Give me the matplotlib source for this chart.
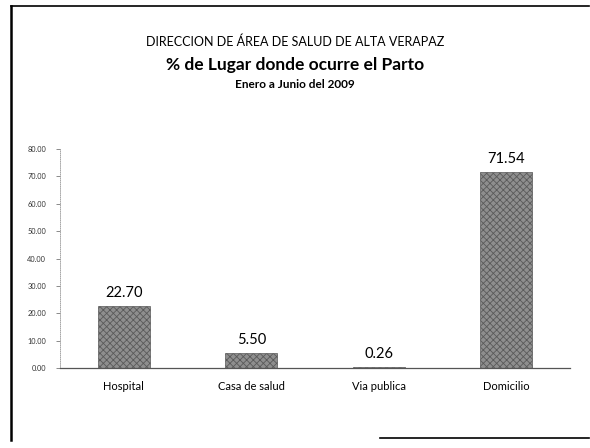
import matplotlib.pyplot as plt
from matplotlib.lines import Line2D

plt.rcParams['font.family'] = ['Lato', 'DejaVu Sans']
plt.rcParams['hatch.color'] = '#4a4a4a'
plt.rcParams['hatch.linewidth'] = 0.6

# Datos
lugares = ['Hospital', 'Casa de salud', 'Via publica', 'Domicilio']
porcentajes = [22.70, 5.50, 0.26, 71.54]
yticks = [0, 10, 20, 30, 40, 50, 60, 70, 80]

fig = plt.figure(figsize=(5.9, 4.48), dpi=100)
ax = fig.add_axes([60 / 590, 1 - 368 / 448, 510 / 590, 219 / 448])

x = range(len(lugares))
ax.bar(x, porcentajes, width=0.41, color='#8e8e8e', edgecolor='#5a5a5a',
       hatch='xxxxx', linewidth=0.5, zorder=2)
for i, v in zip(x, porcentajes):
    ax.text(i, v + 2.2, f'{v:.2f}', ha='center', va='bottom', fontsize=10.5)

ax.set_xlim(-0.5, 3.5)
ax.set_ylim(0, 80)
ax.set_xticks(list(x))
ax.set_xticklabels(lugares, fontsize=8)
ax.set_yticks(yticks)
ax.set_yticklabels([f'{t:.2f}' for t in yticks], fontsize=5.3, color='#333333')
ax.tick_params(axis='x', length=0, pad=9)
ax.tick_params(axis='y', length=3, width=0.6, color='#777777', pad=7)
for s in ['top', 'right']:
    ax.spines[s].set_visible(False)
ax.spines['left'].set_color('#999999')
ax.spines['left'].set_linestyle((0, (1, 1.5)))
ax.spines['left'].set_linewidth(0.6)
ax.spines['bottom'].set_color('#555555')
ax.spines['bottom'].set_linewidth(0.9)

# Titulos
fig.text(0.5, 1 - 42 / 448, 'DIRECCION DE ÁREA DE SALUD DE ALTA VERAPAZ',
         ha='center', va='center', fontsize=9)
fig.text(0.5, 1 - 65 / 448, '% de Lugar donde ocurre el Parto',
         ha='center', va='center', fontsize=12.5, fontweight='bold')
fig.text(0.5, 1 - 85 / 448, 'Enero a Junio del 2009',
         ha='center', va='center', fontsize=8.5, fontweight='bold')

# Marco
W, H = 590, 448
fig.add_artist(Line2D([11 / W, 11 / W], [1 - 6 / H, 1 - 440 / H], color='black', lw=1.8))
fig.add_artist(Line2D([11 / W, 589 / W], [1 - 6 / H, 1 - 6 / H], color='black', lw=1.2))
fig.add_artist(Line2D([380 / W, 589 / W], [1 - 438 / H, 1 - 438 / H], color='black', lw=1.2))

fig.savefig('out.png', dpi=100)
